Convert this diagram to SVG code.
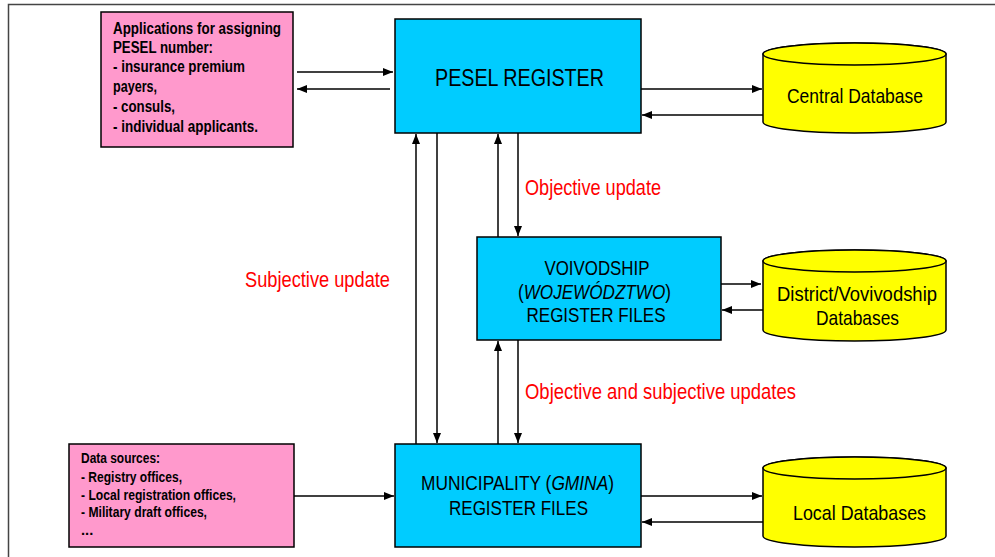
<svg xmlns="http://www.w3.org/2000/svg" width="995" height="557" viewBox="0 0 995 557">
<defs>
<marker id="ah" markerUnits="userSpaceOnUse" markerWidth="10" markerHeight="8" refX="10" refY="4" orient="auto">
<path d="M0,0 L10,4 L0,8 z" fill="#000"/>
</marker>
<style>
.frame{stroke:#444;stroke-width:1.5;fill:none}
.box{fill:#00CCFF;stroke:#000;stroke-width:1.5}
.pink{fill:#FF99CC;stroke:#000;stroke-width:1.5}
.cyl{fill:#FFFF00;stroke:#000;stroke-width:1.5}
.con line{stroke:#000;stroke-width:1.5;marker-end:url(#ah)}
text{font-family:"Liberation Sans Narrow","Liberation Sans",Arial,sans-serif;fill:#000}
.big{font-size:21px;text-anchor:middle}
.note{font-size:16px;font-weight:bold}
.note2{font-size:14.7px;font-weight:bold}
.red{font-size:22px;fill:#FF0000}
</style>
</defs>
<rect width="995" height="557" fill="#fff"/>
<path class="frame" d="M8.5,557 L8.5,4.5 L995,4.5"/>

<g id="applications">
<rect class="pink" x="101" y="12" width="192" height="135"/>
<text class="note" x="113" y="34" textLength="168" lengthAdjust="spacingAndGlyphs">Applications for assigning</text>
<text class="note" x="113" y="53" textLength="100" lengthAdjust="spacingAndGlyphs">PESEL number:</text>
<text class="note" x="113" y="72" textLength="132" lengthAdjust="spacingAndGlyphs">- insurance premium</text>
<text class="note" x="113" y="92" textLength="44" lengthAdjust="spacingAndGlyphs">payers,</text>
<text class="note" x="113" y="112" textLength="62" lengthAdjust="spacingAndGlyphs">- consuls,</text>
<text class="note" x="113" y="132" textLength="145" lengthAdjust="spacingAndGlyphs">- individual applicants.</text>
</g>

<g id="pesel">
<rect class="box" x="395" y="19" width="246" height="114"/>
<text x="519.5" y="86" font-size="24" text-anchor="middle" textLength="169" lengthAdjust="spacingAndGlyphs">PESEL REGISTER</text>
</g>

<g id="central-db">
<path class="cyl" d="M763,54 L763,122 A91.5,11 0 0 0 946,122 L946,54 A91.5,11 0 0 0 763,54 z"/>
<ellipse class="cyl" cx="854.5" cy="54" rx="91.5" ry="11"/>
<text class="big" x="855" y="102.5" textLength="136" lengthAdjust="spacingAndGlyphs">Central Database</text>
</g>

<g id="voivodship">
<rect class="box" x="477" y="237" width="244" height="103"/>
<text class="big" x="597" y="274.5" textLength="105" lengthAdjust="spacingAndGlyphs">VOIVODSHIP</text>
<text class="big" x="594.5" y="298.5" textLength="153" lengthAdjust="spacingAndGlyphs">(<tspan font-style="italic">WOJEWÓDZTWO</tspan>)</text>
<text class="big" x="596" y="321.5" textLength="139" lengthAdjust="spacingAndGlyphs">REGISTER FILES</text>
</g>

<g id="district-db">
<path class="cyl" d="M763,261 L763,330 A91.5,11 0 0 0 946,330 L946,261 A91.5,11 0 0 0 763,261 z"/>
<ellipse class="cyl" cx="854.5" cy="261" rx="91.5" ry="11"/>
<text class="big" x="857" y="300.5" textLength="160" lengthAdjust="spacingAndGlyphs">District/Vovivodship</text>
<text class="big" x="857.5" y="324.5" textLength="83" lengthAdjust="spacingAndGlyphs">Databases</text>
</g>

<g id="municipality">
<rect class="box" x="395" y="444" width="246" height="103"/>
<text class="big" x="517.5" y="489.5" textLength="193" lengthAdjust="spacingAndGlyphs">MUNICIPALITY (<tspan font-style="italic">GMINA</tspan>)</text>
<text class="big" x="518.5" y="514.5" textLength="139" lengthAdjust="spacingAndGlyphs">REGISTER FILES</text>
</g>

<g id="local-db">
<path class="cyl" d="M763,468 L763,536 A91.5,11 0 0 0 946,536 L946,468 A91.5,11 0 0 0 763,468 z"/>
<ellipse class="cyl" cx="854.5" cy="468" rx="91.5" ry="11"/>
<text class="big" x="859.5" y="519.5" textLength="133" lengthAdjust="spacingAndGlyphs">Local Databases</text>
</g>

<g id="data-sources">
<rect class="pink" x="69" y="444" width="225" height="103"/>
<text class="note2" x="81" y="463" textLength="79" lengthAdjust="spacingAndGlyphs">Data sources:</text>
<text class="note2" x="81" y="482" textLength="101" lengthAdjust="spacingAndGlyphs">- Registry offices,</text>
<text class="note2" x="81" y="499.5" textLength="155" lengthAdjust="spacingAndGlyphs">- Local registration offices,</text>
<text class="note2" x="81" y="517" textLength="126" lengthAdjust="spacingAndGlyphs">- Military draft offices,</text>
<text class="note2" x="81" y="535">...</text>
</g>

<g id="labels">
<text class="red" x="525" y="195" textLength="136" lengthAdjust="spacingAndGlyphs">Objective update</text>
<text class="red" x="245" y="287" textLength="145" lengthAdjust="spacingAndGlyphs">Subjective update</text>
<text class="red" x="525" y="399" textLength="271" lengthAdjust="spacingAndGlyphs">Objective and subjective updates</text>
</g>

<g id="connectors" class="con">
<line x1="297" y1="72" x2="393" y2="72"/>
<line x1="390" y1="89" x2="297" y2="89"/>
<line x1="641" y1="89" x2="762" y2="89"/>
<line x1="763" y1="115" x2="642" y2="115"/>
<line x1="721" y1="284" x2="761" y2="284"/>
<line x1="763" y1="310" x2="722" y2="310"/>
<line x1="641" y1="496" x2="762" y2="496"/>
<line x1="763" y1="522" x2="642" y2="522"/>
<line x1="294" y1="496" x2="394" y2="496"/>
<line x1="416" y1="444" x2="416" y2="134"/>
<line x1="437" y1="133" x2="437" y2="443"/>
<line x1="498" y1="237" x2="498" y2="134"/>
<line x1="518" y1="133" x2="518" y2="236"/>
<line x1="498" y1="444" x2="498" y2="341"/>
<line x1="518" y1="340" x2="518" y2="443"/>
</g>
</svg>
